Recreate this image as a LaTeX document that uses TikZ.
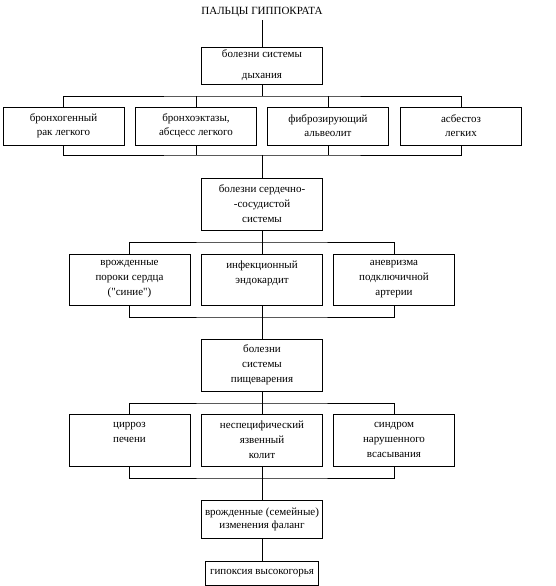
\documentclass[tikz,border=0pt]{standalone}
\usepackage{fontspec}
\setmainfont{Liberation Serif}[Ligatures=TeXOff]
\usepackage{tikz}

\begin{document}
\begin{tikzpicture}[x=1pt, y=-1pt, every node/.style={font=\fontsize{11}{15}\selectfont},
	cell/.style={draw, line width=0.8pt, align=center, inner sep=1pt, minimum width=121pt},
	link/.style={line width=0.8pt}]
	\useasboundingbox (0,0) rectangle (556,586);
	\node (title) at (262,12) {ПАЛЬЦЫ ГИППОКРАТА};
	\node[cell, minimum height=37pt] (resp) at (262,65.5) {болезни системы\\[6pt]дыхания};
	\node[cell, minimum height=38pt] (ra) at (63.5,126) {бронхогенный\\[-1pt]рак легкого};
	\node[cell, minimum height=38pt] (rb) at (196,126) {бронхоэктазы,\\[-1pt]абсцесс легкого};
	\node[cell, minimum height=38pt] (rc) at (328,126) {фиброзирующий\\[-1pt]альвеолит};
	\node[cell, minimum height=38pt] (rd) at (461,126) {асбестоз\\[-1pt]легких};
	\node[cell, minimum height=52pt] (cardio) at (262,204) {болезни сердечно-\\-сосудистой\\системы};
	\node[cell, minimum height=51pt] (ca) at (129.5,279.5) {врожденные\\пороки сердца\\("синие")};
	\node[cell, minimum height=51pt] (cb) at (262,279.5) {инфекционный\\эндокардит\\\mbox{}};
	\node[cell, minimum height=51pt] (cc) at (394,279.5) {аневризма\\подключичной\\артерии};
	\node[cell, minimum height=52pt] (digest) at (262,365) {болезни\\системы\\пищеварения};
	\node[cell, minimum height=52pt] (da) at (129.5,440) {цирроз\\печени\\\mbox{}};
	\node[cell, minimum height=52pt] (db) at (262,440) {неспецифический\\язвенный\\колит};
	\node[cell, minimum height=52pt] (dc) at (394,440) {синдром\\нарушенного\\всасывания};
	\node[cell, minimum height=38pt] (cong) at (262,519) {врожденные (семейные)\\[-2pt]изменения фаланг};
	\node[cell, minimum height=24pt, minimum width=113pt] (hyp) at (262,573) {гипоксия высокогорья};

	\coordinate (bus1) at (262,96);
	\coordinate (bus2) at (262,155);
	\coordinate (bus3) at (262,242);
	\coordinate (bus4) at (262,317);
	\coordinate (bus5) at (262,403);
	\coordinate (bus6) at (262,478);

	\draw[link] (title.south) -- (resp.north);
	\draw[link] (resp.south) -- (bus1);
	\draw[link] (ra.north) |- (bus1) -| (rd.north);
	\draw[link] (ra.south) |- (bus2) -| (rd.south);
	\foreach \n in {rb,rc} {
		\draw[link] (\n.north) -- (\n.north |- bus1);
		\draw[link] (\n.south) -- (\n.south |- bus2);
	}
	\draw[link] (bus2) -- (cardio.north);
	\draw[link] (cardio.south) -- (cb.north);
	\draw[link] (ca.north) |- (bus3) -| (cc.north);
	\draw[link] (ca.south) |- (bus4) -| (cc.south);
	\draw[link] (cb.south) -- (digest.north);
	\draw[link] (digest.south) -- (db.north);
	\draw[link] (da.north) |- (bus5) -| (dc.north);
	\draw[link] (da.south) |- (bus6) -| (dc.south);
	\draw[link] (db.south) -- (cong.north);
	\draw[link] (cong.south) -- (hyp.north);

\end{tikzpicture}
\end{document}
